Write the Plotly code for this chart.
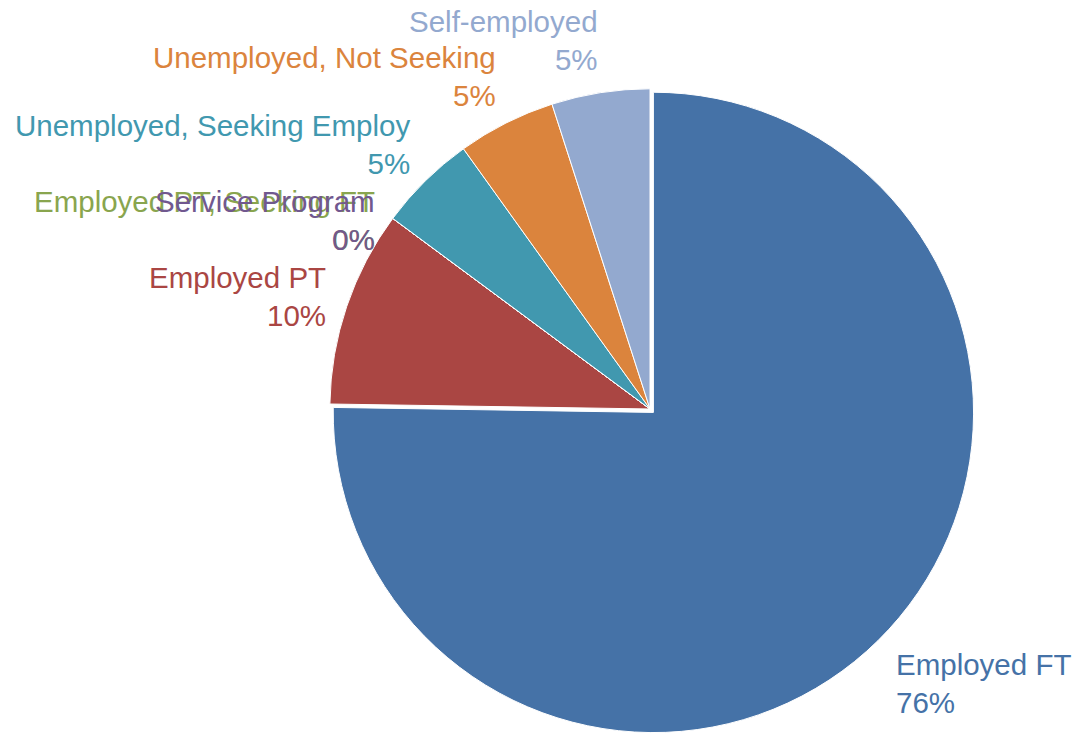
import math
import plotly.graph_objects as go

# employment status (%), as labelled; the shares sum to 101 through rounding
labels = ["Employed FT", "Employed PT", "Employed PT, Seeking FT", "Service Program",
          "Unemployed, Seeking Employ", "Unemployed, Not Seeking", "Self-employed"]
values = [76, 10, 0, 0, 5, 5, 5]
colors = ["#4572A7", "#AA4643", "#89A54E", "#71588F", "#4198AF", "#DB843D", "#93A9CF"]
pulls = [0.015, 0, 0, 0, 0, 0, 0]

W, H = 1077, 734
dom_x = [0.3018, 0.9053]
dom_y = [0.0, 0.8856]

fig = go.Figure(go.Pie(
    labels=labels,
    values=values,
    sort=False,
    direction="clockwise",
    rotation=0,
    pull=pulls,
    marker=dict(colors=colors, line=dict(color="white", width=1)),
    textinfo="none",
    hoverinfo="label+value",
    showlegend=False,
    domain=dict(x=dom_x, y=dom_y),
))

# outside labels placed around each slice's mid angle
total = sum(values)
cx = W * (dom_x[0] + dom_x[1]) / 2
cy = H * (1 - (dom_y[0] + dom_y[1]) / 2)
pos = []
start = 0
for v in values:
    mid = 2 * math.pi * (start + v / 2) / total
    start += v
    s, co = math.sin(mid), math.cos(mid)
    pos.append([mid, cx + 345 * s - 3 * co, cy - 378 * co])

# push labels down where they would collide with the one above on the same side
for side in (True, False):
    idx = sorted([i for i in range(len(pos)) if (math.sin(pos[i][0]) < 0) == side],
                 key=lambda i: pos[i][2])
    for a, b in zip(idx, idx[1:]):
        if pos[b][0] == pos[a][0]:
            pos[b][2] = pos[a][2]
        elif abs(pos[b][1] - pos[a][1]) < 60 and pos[b][2] - pos[a][2] < 76:
            pos[b][2] = pos[a][2] + 76

for lab, v, col, (mid, px, py) in zip(labels, values, colors, pos):
    left = math.sin(mid) < 0
    fig.add_annotation(
        x=px / W, y=1 - py / H, xref="paper", yref="paper",
        text=f"{lab}<br>{v}%",
        showarrow=False,
        xanchor="right" if left else "left",
        yanchor="middle",
        xshift=6 if left else 0,
        yshift=-5,
        align="right" if left else "left",
        font=dict(color=col, size=29.5, family="Liberation Sans, Arial"),
    )

fig.update_layout(
    width=W, height=H,
    margin=dict(l=0, r=0, t=0, b=0),
    paper_bgcolor="white",
    font=dict(family="Liberation Sans, Arial", size=20),
)

fig.write_html("out.html", config={"displayModeBar": False},
               post_script="document.body.style.margin='0';")
